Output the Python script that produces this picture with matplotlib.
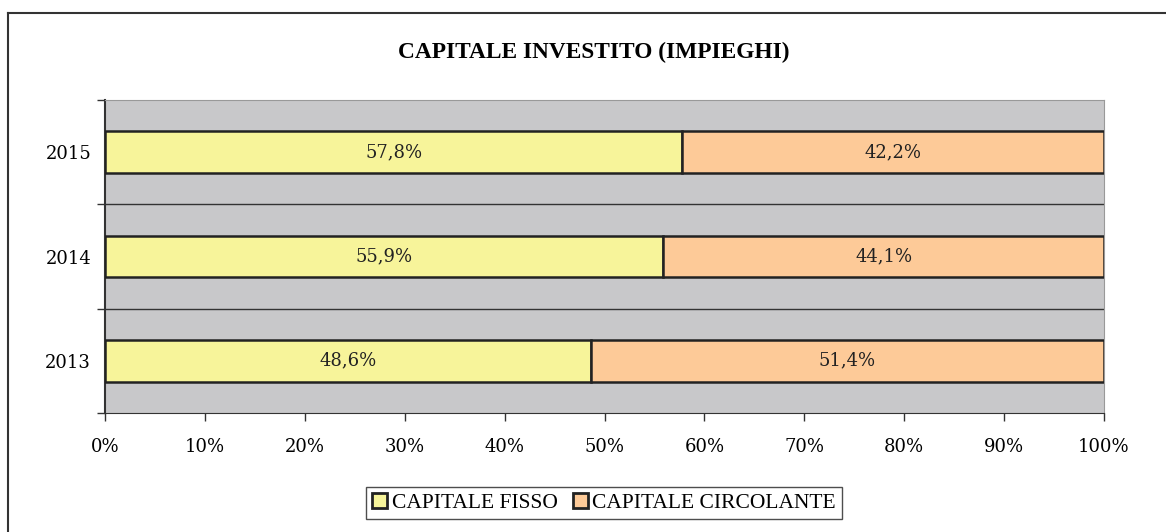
import numpy as np
import matplotlib.pyplot as plt
from matplotlib.lines import Line2D
from matplotlib.patches import Patch
from matplotlib.ticker import FixedLocator

# Data
years = ["2013", "2014", "2015"]
capitale_fisso = [48.6, 55.9, 57.8]
capitale_circolante = [51.4, 44.1, 42.2]
x_ticks = [0, 10, 20, 30, 40, 50, 60, 70, 80, 90, 100]

YELLOW = "#F7F49A"
ORANGE = "#FDCA98"
BG = "#C8C8CA"
EDGE = "#222222"

fig = plt.figure(figsize=(11.66, 5.32), dpi=100)
ax = fig.add_axes([105 / 1166, 1 - 413 / 532, (1104 - 105) / 1166, (413 - 100) / 532])
ax.set_facecolor(BG)

y = np.arange(len(years))
h = 0.4
ax.barh(y, capitale_fisso, height=h, color=YELLOW, edgecolor=EDGE, linewidth=1.8,
        label="CAPITALE FISSO", zorder=3)
ax.barh(y, capitale_circolante, left=capitale_fisso, height=h, color=ORANGE,
        edgecolor=EDGE, linewidth=1.8, label="CAPITALE CIRCOLANTE", zorder=3)

for yi, f, c in zip(y, capitale_fisso, capitale_circolante):
    ax.text(f / 2, yi, f"{f:.1f}%".replace(".", ","), ha="center", va="center",
            fontsize=13, family="DejaVu Serif", color="#222222", zorder=4)
    ax.text(f + c / 2, yi, f"{c:.1f}%".replace(".", ","), ha="center", va="center",
            fontsize=13, family="DejaVu Serif", color="#222222", zorder=4)

ax.set_xlim(0, 100)
ax.set_ylim(-0.5, len(years) - 0.5)

ax.set_xticks(x_ticks)
ax.set_xticklabels([f"{t}%" for t in x_ticks], family="DejaVu Serif", fontsize=13)
ax.set_yticks(y)
ax.set_yticklabels(years, family="DejaVu Serif", fontsize=13)
ax.tick_params(axis="y", length=0, pad=10)
ax.tick_params(axis="x", length=6, width=1, color="#333333", pad=12)

# boundary ticks and gridlines between categories
bounds = np.arange(-0.5, len(years), 1.0)
ax.yaxis.set_minor_locator(FixedLocator(bounds))
ax.tick_params(axis="y", which="minor", length=6, width=1, color="#333333")
for b in bounds[1:-1]:
    ax.axhline(b, color="#333333", linewidth=1, zorder=1)

for side in ["top", "right"]:
    ax.spines[side].set_color("#999999")
ax.spines["left"].set_color("#333333")
ax.spines["bottom"].set_color("#333333")
ax.spines["left"].set_linewidth(1.5)

fig.text(594 / 1166, 1 - 52 / 532, "CAPITALE INVESTITO (IMPIEGHI)", ha="center", va="center",
         fontsize=16.8, fontweight="bold", family="Liberation Serif")

handles = [Patch(facecolor=YELLOW, edgecolor=EDGE, linewidth=2, label="CAPITALE FISSO"),
           Patch(facecolor=ORANGE, edgecolor=EDGE, linewidth=2, label="CAPITALE CIRCOLANTE")]
leg = fig.legend(handles=handles, loc="center", bbox_to_anchor=(604 / 1166, 1 - 503 / 532),
                 ncol=2, frameon=True, fancybox=False, edgecolor="#222222",
                 prop={"family": "Liberation Serif", "size": 15.5},
                 handlelength=0.7, handleheight=0.7, handletextpad=0.2, columnspacing=0.7,
                 borderpad=0.3, borderaxespad=0)
leg.get_frame().set_linewidth(1)

# outer chart frame (left and top edges visible)
fig.add_artist(Line2D([7.5 / 1166, 7.5 / 1166], [0, 1 - 12.5 / 532], color="#333333", linewidth=1.5))
fig.add_artist(Line2D([7.5 / 1166, 1], [1 - 12.5 / 532, 1 - 12.5 / 532], color="#333333", linewidth=1.5))

fig.savefig("out.png", dpi=100)
